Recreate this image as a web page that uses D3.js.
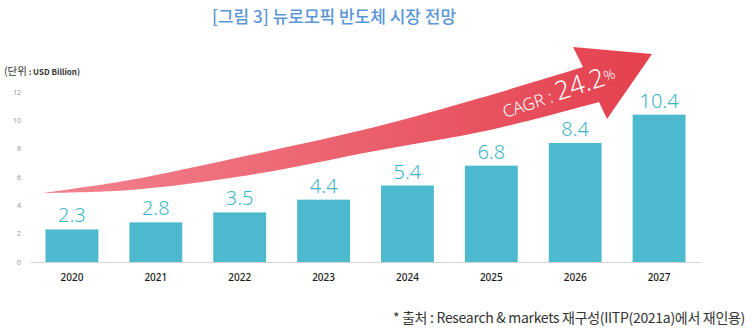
<!DOCTYPE html>
<html>
<head>
<meta charset="utf-8">
<script src="https://cdn.jsdelivr.net/npm/d3@7"></script>
<style>
  body { margin: 0; background: #fff; }
  svg { display: block; }
</style>
</head>
<body>
<div id="chart"></div>
<script>
// market size by year (USD Billion)
const years = ["2020", "2021", "2022", "2023", "2024", "2025", "2026", "2027"];
const values = [2.3, 2.8, 3.5, 4.4, 5.4, 6.8, 8.4, 10.4];
const yTicks = [0, 2, 4, 6, 8, 10, 12];

const WIDTH = 752;
const HEIGHT = 331;
const KR_FONT = "'Noto Sans CJK KR', 'Noto Sans', sans-serif";
const NUM_FONT = "'Noto Sans', 'Open Sans', sans-serif";

const svg = d3.select("#chart")
    .append("svg")
    .attr("width", WIDTH)
    .attr("height", HEIGHT);

// Scales
let xScale = d3.scaleBand()
    .domain(years)
    .range([30, 701])
    .paddingInner(0.37)
    .paddingOuter(0.185);

let yScale = d3.scaleLinear()
    .domain([0, 12])
    .range([262, 92]);

// Title
svg.append("text")
    .attr("x", 334)
    .attr("y", 23)
    .attr("text-anchor", "middle")
    .attr("font-family", KR_FONT)
    .attr("font-size", 17)
    .attr("font-weight", 500)
    .attr("fill", "#5a96d8")
    .text("[그림 3] 뉴로모픽 반도체 시장 전망");

// Unit label
const unit = svg.append("text")
    .attr("x", 4)
    .attr("y", 75)
    .attr("font-family", KR_FONT)
    .attr("fill", "#333");
unit.append("tspan").attr("font-size", 10.5).text("(단위");
unit.append("tspan").attr("font-size", 8).attr("font-weight", 600).text(" : USD Billion)");

// Y axis (labels only)
const yAxis = svg.append("g")
    .attr("transform", "translate(21,0)")
    .call(d3.axisLeft(yScale).tickValues(yTicks).tickSize(0).tickPadding(0));
yAxis.select(".domain").remove();
yAxis.selectAll("text")
    .attr("font-family", NUM_FONT)
    .attr("font-size", 7)
    .attr("fill", "#999");

// X axis with baseline
const xAxis = svg.append("g")
    .attr("transform", `translate(0,${yScale(0)})`)
    .call(d3.axisBottom(xScale).tickSize(0).tickSizeOuter(0).tickPadding(12));
xAxis.select(".domain").attr("stroke", "#d4d4d4");
xAxis.selectAll("text")
    .attr("font-family", NUM_FONT)
    .attr("font-size", 10)
    .attr("font-weight", 500)
    .attr("fill", "#1a1a1a");

// Growth arrow
const defs = svg.append("defs");
const grad = defs.append("linearGradient")
    .attr("id", "arrowFill")
    .attr("x1", "0%").attr("x2", "100%")
    .attr("y1", "0%").attr("y2", "0%");
grad.append("stop").attr("offset", "0%").attr("stop-color", "#f2838f");
grad.append("stop").attr("offset", "100%").attr("stop-color", "#e4404d");

const upperEdge = [[43, 193], [130, 180], [250, 155], [375, 127], [480, 98], [583, 67]];
const arrowHead = [[573, 47], [652, 54], [607, 119]];
const lowerEdge = [[599, 102], [490, 130], [375, 151], [250, 175], [130, 190], [43, 193]];

const edge = d3.line().curve(d3.curveCatmullRom);
const arrowPath = edge(upperEdge)
    + arrowHead.map(p => `L${p[0]},${p[1]}`).join("")
    + edge(lowerEdge).replace(/^M/, "L")
    + "Z";

svg.append("path")
    .attr("d", arrowPath)
    .attr("fill", "url(#arrowFill)");

const cagr = svg.append("text")
    .attr("transform", "translate(505,118) rotate(-18)")
    .attr("font-family", NUM_FONT)
    .attr("font-weight", 300)
    .attr("fill", "#fff");
cagr.append("tspan").attr("font-size", 17).text("CAGR : ");
cagr.append("tspan").attr("font-size", 26).text("24.2");
cagr.append("tspan").attr("font-size", 14).attr("dy", -4).text("%");

// Bars
svg.append("g")
    .selectAll("rect")
    .data(values)
    .enter()
    .append("rect")
    .attr("x", (d, i) => xScale(years[i]))
    .attr("y", d => yScale(d))
    .attr("width", xScale.bandwidth())
    .attr("height", d => yScale(0) - yScale(d))
    .attr("fill", "#4cb9cf");

// Value labels
svg.append("g")
    .selectAll("text")
    .data(values)
    .enter()
    .append("text")
    .attr("x", (d, i) => xScale(years[i]) + xScale.bandwidth() / 2)
    .attr("y", d => yScale(d) - 7)
    .attr("text-anchor", "middle")
    .attr("font-family", NUM_FONT)
    .attr("font-weight", 300)
    .attr("font-size", 20)
    .attr("fill", "#3fb6c6")
    .text(d => d.toFixed(1));

// Source note
svg.append("text")
    .attr("x", 745)
    .attr("y", 323)
    .attr("text-anchor", "end")
    .attr("font-family", KR_FONT)
    .attr("font-size", 14)
    .attr("letter-spacing", -0.3)
    .attr("fill", "#333")
    .text("* 출처 : Research & markets 재구성(IITP(2021a)에서 재인용)");
</script>
</body>
</html>
